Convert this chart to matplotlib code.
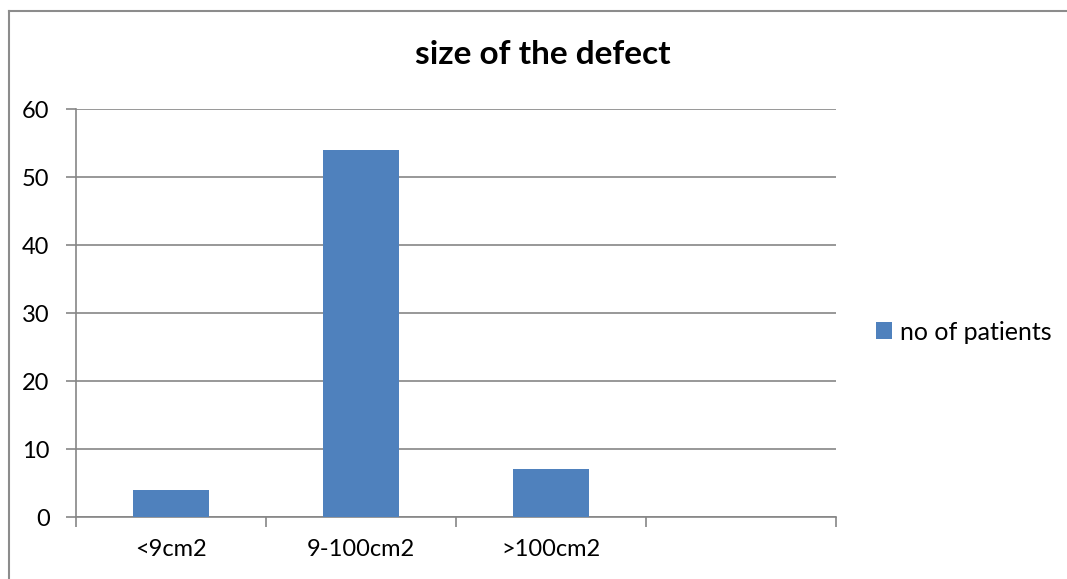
import matplotlib.pyplot as plt
from matplotlib.lines import Line2D

# ===== 数据 =====
categories = ["<9cm2", "9-100cm2", ">100cm2", ""]
patients = [4, 54, 7, None]
y_ticks = [0, 10, 20, 30, 40, 50, 60]

plt.rcParams["font.family"] = ["Lato", "DejaVu Sans"]
GRID = "#868686"
BAR = "#4F81BD"

fig = plt.figure(figsize=(10.67, 5.79), dpi=100)
ax = fig.add_axes([76 / 1067, 62 / 579, 760 / 1067, 408 / 579])

positions = [i for i, v in enumerate(patients) if v is not None]
values = [v for v in patients if v is not None]
ax.bar(positions, values, width=0.4, color=BAR, label="no of patients", zorder=3)

ax.set_xlim(-0.5, len(categories) - 0.5)
ax.set_ylim(0, 60)
ax.set_yticks(y_ticks)
ax.set_yticklabels([str(t) for t in y_ticks], fontsize=17)
ax.yaxis.grid(True, color=GRID, linewidth=1.2)
ax.set_axisbelow(True)

# 类别分隔刻度画在边界上，标签放在类别中心
ax.set_xticks([i - 0.5 for i in range(len(categories) + 1)])
ax.set_xticklabels([])
ax.set_xticks(range(len(categories)), minor=True)
ax.set_xticklabels(categories, minor=True, fontsize=17)
ax.tick_params(axis="x", which="minor", length=0, pad=16)
ax.tick_params(axis="x", which="major", length=7, color=GRID, width=1.2)
ax.tick_params(axis="y", length=7, color=GRID, width=1.2, pad=12)

for side in ["top", "right"]:
    ax.spines[side].set_visible(False)
for side in ["left", "bottom"]:
    ax.spines[side].set_color(GRID)
    ax.spines[side].set_linewidth(1.2)

fig.text(543 / 1067, 1 - 55 / 579, "size of the defect", ha="center", va="center",
         fontsize=24, fontweight="bold")

fig.legend(loc="center left", bbox_to_anchor=(853 / 1067, 1 - 332 / 579), frameon=False,
           fontsize=18, handlelength=0.65, handleheight=0.65, handletextpad=0.35)

# 外框：只露出上边和左边
x0, y0 = 8.5 / 1067, 1 - 10.5 / 579
fig.add_artist(Line2D([x0, 1.0], [y0, y0], color="#8c8c8c", linewidth=1.5))
fig.add_artist(Line2D([x0, x0], [0.0, y0], color="#8c8c8c", linewidth=1.5))

fig.savefig("out.png", dpi=100)
